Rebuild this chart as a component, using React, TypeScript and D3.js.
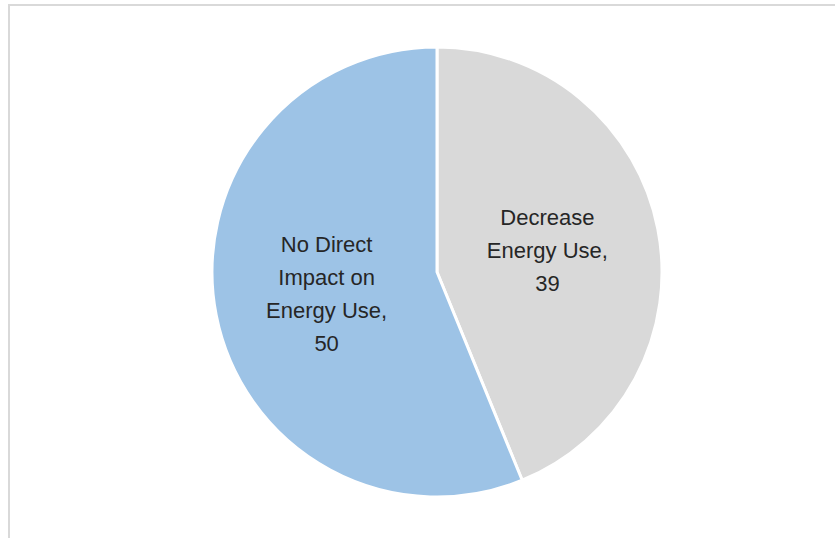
import React from "react";
import * as d3 from "d3";

const categories = ["Decrease Energy Use", "No Direct Impact on Energy Use"];
const values = [39, 50];
const labelLines = [
  ["Decrease", "Energy Use,", "39"],
  ["No Direct", "Impact on", "Energy Use,", "50"],
];
const colors = ["#d9d9d9", "#9dc3e6"];

const W = 835;
const H = 538;

export default function App() {
  const cx = 437;
  const cy = 272;
  const radius = 225;

  const data = categories.map((c, i) => ({ name: c, value: values[i], lines: labelLines[i], color: colors[i] }));

  const pie = d3.pie<any>().value(d => d.value).sort(null);
  const arcs = pie(data);
  const arc = d3.arc<any>().innerRadius(0).outerRadius(radius);

  const lineH = 33;

  return (
    <svg
      width={W}
      height={H}
      style={{ position: "absolute", left: 0, top: 0, display: "block" }}
      fontFamily="'Liberation Sans', Arial, sans-serif"
    >
      <rect x={0} y={0} width={W} height={H} fill="#fff" />
      <rect x={9} y={5} width={W + 20} height={H + 20} fill="#fff" stroke="#d9d9d9" strokeWidth={2} />
      <g transform={`translate(${cx},${cy})`}>
        {arcs.map((a, i) => (
          <path key={i} d={arc(a) || ""} fill={a.data.color} stroke="#fff" strokeWidth={3} strokeLinejoin="round" />
        ))}
        {arcs.map((a, i) => {
          const [lx, ly] = arc.centroid(a);
          const n = a.data.lines.length;
          return (
            <text key={"t" + i} x={lx} y={ly} textAnchor="middle" fontSize={22} fill="#262626">
              {a.data.lines.map((l: string, j: number) => (
                <tspan key={j} x={lx} y={ly + (j - (n - 1) / 2) * lineH} dy="0.35em">
                  {l}
                </tspan>
              ))}
            </text>
          );
        })}
      </g>
    </svg>
  );
}
